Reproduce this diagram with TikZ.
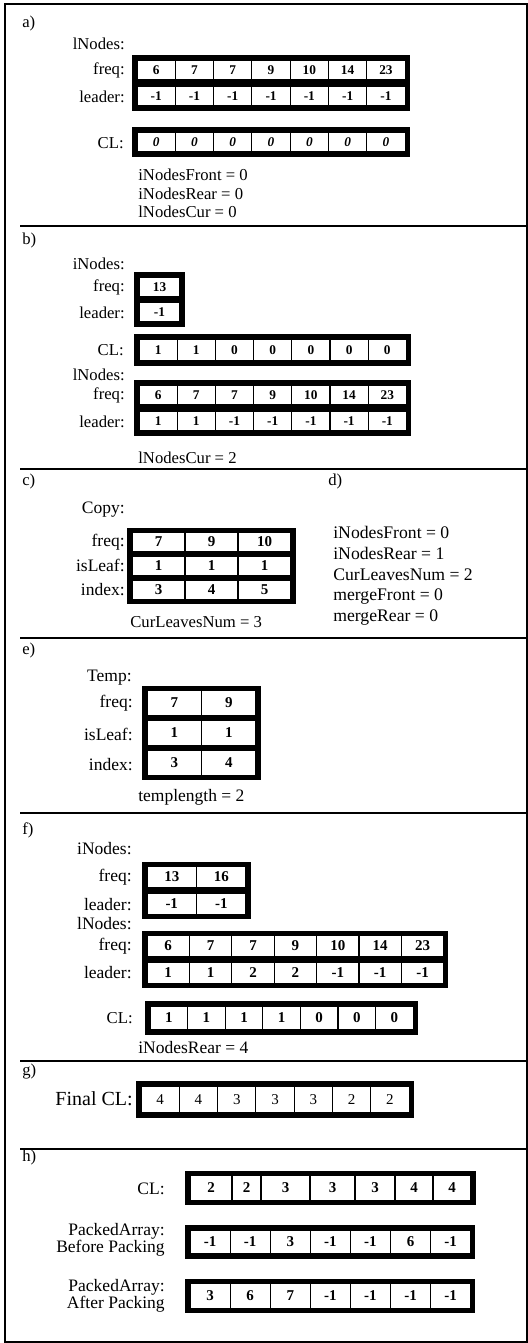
\documentclass[tikz,border=0pt]{standalone}
\usepackage{fontspec}
\setmainfont{Liberation Serif}
\usetikzlibrary{fit}

\tikzset{
  cell/.style={draw, line width=0.7pt, inner sep=0pt,
    font=\bfseries\fontsize{9}{9}\selectfont},
  small cell/.style={font=\bfseries\fontsize{8}{8}\selectfont},
  rowframe/.style={draw, line width=2.4pt, inner sep=1.2pt},
  lbl/.style={anchor=east, inner sep=0pt},
  big lbl/.style={lbl, font=\fontsize{10.5}{12}\selectfont},
  note/.style={anchor=west, inner sep=0pt},
  part/.style={anchor=west, inner sep=0pt},
  rule/.style={line width=0.7pt},
}

% a framed row of cells: [cell opts]{name}{left x}{centre y}{cell width}{cell height}{values}
\newcommand{\cellrow}[7][]{%
  \foreach \v [count=\i] in {#7} {
    \node[cell, minimum width={#5*0.6pt}, minimum height={#6*0.6pt}, #1]
      (#2-\i) at ({#3+(\i-0.5)*#5}, #4) {\v};
    \xdef\lastcell{\i}
  }
  \node[rowframe, fit=(#2-1)(#2-\lastcell)] (#2) {};
}

\begin{document}
\begin{tikzpicture}[x=0.6pt, y=-0.6pt, font=\fontsize{10}{12}\selectfont]
  \useasboundingbox (0,0) rectangle (528,1343);
  \draw[line width=0.9pt] (5,4) rectangle (527,1342);
  \foreach \y in {226,469,638,813,1061,1149}
    \draw[rule] (20,\y) -- (527,\y);

  % a)
  \node[part] (pa) at (22,23) {a)};
  \node[lbl] (a-ln) at (125,44) {lNodes:};
  \node[lbl] (a-fq) at (125,70) {freq:};
  \node[lbl] (a-ld) at (125,97) {leader:};
  \node[lbl] (a-cl) at (124,143) {CL:};
  \cellrow[small cell]{af}{137}{70}{38.3}{20}{6,7,7,9,10,14,23}
  \cellrow[small cell]{al}{137}{96}{38.3}{20}{-1,-1,-1,-1,-1,-1,-1}
  \cellrow[small cell, font=\bfseries\itshape\fontsize{8}{8}\selectfont]{ac}{137}{142}{38.3}{20}{0,0,0,0,0,0,0}
  \foreach \t [count=\k] in {iNodesFront = 0, iNodesRear = 0, lNodesCur = 0}
    \node[note] (a-n\k) at (138,{175+18.5*(\k-1)}) {\t};

  % b)
  \node[part] (pb) at (22,240) {b)};
  \node[lbl] (b-in) at (125,264) {iNodes:};
  \node[lbl] (b-fq) at (125,287) {freq:};
  \node[lbl] (b-ld) at (125,313) {leader:};
  \cellrow[small cell]{bif}{139}{287}{41}{20}{13}
  \cellrow[small cell]{bil}{139}{312}{41}{20}{-1}
  \node[lbl] (b-cl) at (124,350) {CL:};
  \cellrow[small cell]{bc}{139}{350}{38.2}{22}{1,1,0,0,0,0,0}
  \node[lbl] (b-ln) at (125,375) {lNodes:};
  \node[lbl] (b-fq2) at (125,395) {freq:};
  \node[lbl] (b-ld2) at (125,422) {leader:};
  \cellrow[small cell]{blf}{139}{395}{38.2}{20}{6,7,7,9,10,14,23}
  \cellrow[small cell]{bll}{139}{421}{38.2}{20}{1,1,-1,-1,-1,-1,-1}
  \node[note] (b-n1) at (138,458) {lNodesCur = 2};

  % c)
  \node[part] (pc) at (22,481) {c)};
  \node[big lbl] (c-cp) at (125,510) {Copy:};
  \node[big lbl] (c-fq) at (125,542) {freq:};
  \node[big lbl] (c-lf) at (125,565) {isLeaf:};
  \node[big lbl] (c-ix) at (125,590) {index:};
  \cellrow{cf}{132}{542}{53}{19}{7,9,10}
  \cellrow{cl}{132}{566}{53}{19}{1,1,1}
  \cellrow{ci}{132}{590}{53}{19}{3,4,5}
  \node[note] (c-n1) at (130,622) {CurLeavesNum = 3};

  % d)
  \node[part] (pd) at (328,481) {d)};
  \foreach \t [count=\k] in {iNodesFront = 0, iNodesRear = 1, CurLeavesNum = 2,
      mergeFront = 0, mergeRear = 0}
    \node[note, font=\fontsize{10.6}{12}\selectfont] (d-n\k) at (333,{532+21.5*(\k-1)}) {\t};

  % e)
  \node[part] (pe) at (22,650) {e)};
  \node[big lbl] (e-tp) at (132,678) {Temp:};
  \node[big lbl] (e-fq) at (133,703) {freq:};
  \node[big lbl] (e-lf) at (133,734) {isLeaf:};
  \node[big lbl] (e-ix) at (133,765) {index:};
  \cellrow{ef}{147}{703}{54.5}{25}{7,9}
  \cellrow{el}{147}{733}{54.5}{25}{1,1}
  \cellrow{ei}{147}{763}{54.5}{25}{3,4}
  \node[note, font=\fontsize{10.5}{12}\selectfont] (e-n1) at (138,797) {templength = 2};

  % f)
  \node[part] (pf) at (22,830) {f)};
  \node[big lbl] (f-in) at (132,849) {iNodes:};
  \node[big lbl] (f-fq) at (132,877) {freq:};
  \node[big lbl] (f-ld) at (132,905) {leader:};
  \cellrow{fif}{147}{877}{49.5}{21}{13,16}
  \cellrow{fil}{147}{904}{49.5}{21}{-1,-1}
  \node[big lbl] (f-ln) at (132,924) {lNodes:};
  \node[big lbl] (f-fq2) at (132,946) {freq:};
  \node[big lbl] (f-ld2) at (132,973) {leader:};
  \cellrow{flf}{147}{946}{42.4}{21}{6,7,7,9,10,14,23}
  \cellrow{fll}{147}{973}{42.4}{21}{1,1,2,2,-1,-1,-1}
  \node[lbl] (f-cl) at (133,1018) {CL:};
  \cellrow{fc}{150}{1018}{37.6}{24}{1,1,1,1,0,0,0}
  \node[note, font=\fontsize{10.5}{12}\selectfont] (f-n1) at (138,1047) {iNodesRear = 4};

  % g)
  \node[part] (pg) at (22,1072) {g)};
  \node[lbl, font=\fontsize{12}{14}\selectfont] (g-cl) at (133,1099) {Final CL:};
  \cellrow[font=\fontsize{9}{9}\selectfont]{gc}{141}{1099.5}{38.3}{27}{4,4,3,3,3,2,2}

  % h)
  \node[part] (ph) at (22,1157) {h)};
  \node[big lbl] (h-cl) at (165,1189) {CL:};
  \foreach \a/\b/\v [count=\i] in {190/232/2, 232/261/2, 261/310/3, 310/355/3,
      355/395/3, 395/433/4, 433/471/4}
    \node[cell, minimum width={(\b-\a)*0.6pt}, minimum height={25*0.6pt}]
      (hc-\i) at ({(\a+\b)/2},1188) {\v};
  \node[rowframe, fit=(hc-1)(hc-7)] (hc) {};
  \node[lbl, align=right, font=\fontsize{10.5}{10}\selectfont] (h-bp) at (165,1240)
    {PackedArray:\\Before Packing};
  \cellrow{hb}{190}{1242}{40.1}{24}{-1,-1,3,-1,-1,6,-1}
  \node[lbl, align=right, font=\fontsize{10.5}{10}\selectfont] (h-ap) at (165,1296)
    {PackedArray:\\After Packing};
  \cellrow{ha}{190}{1296}{40.1}{25}{3,6,7,-1,-1,-1,-1}
\end{tikzpicture}
\end{document}
